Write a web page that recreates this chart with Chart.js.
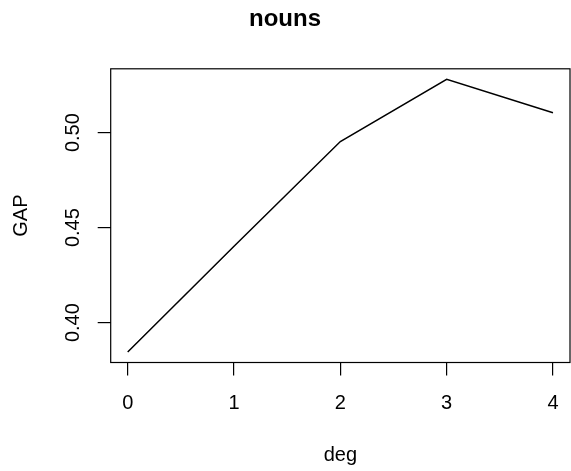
<!DOCTYPE html>
<html>
<head>
<meta charset="utf-8">
<script src="https://cdn.jsdelivr.net/npm/chart.js@4/dist/chart.umd.min.js"></script>
<style>
  body { margin: 0; background: #fff; }
  canvas { display: block; }
</style>
</head>
<body>
<canvas id="myChart" width="571" height="471"></canvas>
<script>
// values
var deg = [0, 1, 2, 3, 4];
var gap = [0.3845, 0.4402, 0.4953, 0.5281, 0.5105];
var xTicks = [0, 1, 2, 3, 4];
var yTicks = [0.40, 0.45, 0.50];

var points = [];
for (var i in deg) {
    points.push({x: deg[i], y: gap[i]});
}

var font = "'Liberation Sans', Arial, Helvetica, sans-serif";

// box round the plot region, like R's box()
var boxPlugin = {
    id: 'box',
    afterDraw: function(chart) {
        var a = chart.chartArea;
        var ctx = chart.ctx;
        ctx.save();
        ctx.strokeStyle = '#000';
        ctx.lineWidth = 1.2;
        ctx.strokeRect(a.left, a.top, a.right - a.left, a.bottom - a.top);
        ctx.restore();
    }
};

var chart = new Chart('myChart', {
    type: 'line',
    data: {
        datasets: [{
            data: points,
            borderColor: '#000',
            borderWidth: 1.5,
            pointRadius: 0,
            fill: false,
            tension: 0
        }]
    },
    plugins: [boxPlugin],
    options: {
        responsive: false,
        animation: false,
        layout: { padding: { left: 0, right: 1, top: 0, bottom: 0 } },
        plugins: {
            legend: { display: false },
            tooltip: { enabled: false },
            title: {
                display: true,
                text: 'nouns',
                color: '#000',
                font: { family: font, size: 24, weight: 'bold' },
                padding: { top: 5, bottom: 35 }
            }
        },
        scales: {
            x: {
                type: 'linear',
                min: -0.16,
                max: 4.16,
                afterBuildTicks: function(scale) {
                    scale.ticks = xTicks.map(function(v) { return {value: v}; });
                },
                afterFit: function(scale) {
                    scale.height = 108.5;
                    // labels sit well inside the box, no extra side room needed
                    scale.paddingLeft = 0;
                    scale.paddingRight = 0;
                },
                border: { display: false },
                grid: { drawOnChartArea: false, color: '#000', tickColor: '#000', tickLength: 13, lineWidth: 1.2 },
                ticks: {
                    color: '#000',
                    font: { family: font, size: 20 },
                    padding: 16,
                    maxRotation: 0,
                    callback: function(v) { return String(v); }
                },
                title: {
                    display: true,
                    text: 'deg',
                    color: '#000',
                    font: { family: font, size: 20 },
                    padding: { top: 0, bottom: 4 }
                }
            },
            y: {
                min: 0.3790,
                max: 0.5336,
                afterBuildTicks: function(scale) {
                    scale.ticks = yTicks.map(function(v) { return {value: v}; });
                },
                afterFit: function(scale) { scale.width = 110.7; },
                border: { display: false },
                grid: { drawOnChartArea: false, color: '#000', tickColor: '#000', tickLength: 13, lineWidth: 1.2 },
                ticks: {
                    color: '#000',
                    font: { family: font, size: 20 },
                    padding: 5,
                    minRotation: 90,
                    maxRotation: 90,
                    crossAlign: 'center',
                    callback: function(v) { return v.toFixed(2); }
                },
                title: {
                    display: true,
                    text: 'GAP',
                    color: '#000',
                    font: { family: font, size: 20 },
                    padding: { top: 9, bottom: 0 }
                }
            }
        }
    }
});
</script>
</body>
</html>
